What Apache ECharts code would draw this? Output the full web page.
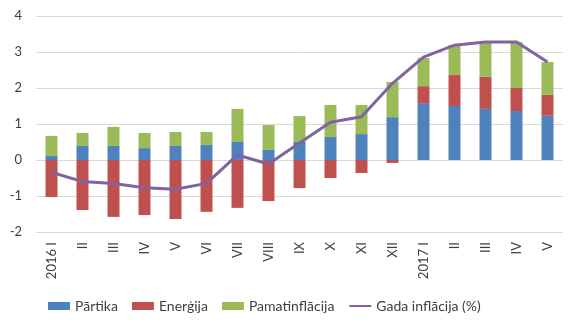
<!DOCTYPE html>
<html>
<head>
<meta charset="utf-8">
<script src="https://cdn.jsdelivr.net/npm/echarts@6/dist/echarts.min.js"></script>
<style>
  html, body { margin: 0; padding: 0; background: #fff; }
  #chart { width: 577px; height: 325px; }
</style>
</head>
<body>
<div id="chart"></div>
<script>
// mēneši
var categories = ['2016 I', 'II', 'III', 'IV', 'V', 'VI', 'VII', 'VIII', 'IX', 'X', 'XI', 'XII',
  '2017 I', 'II', 'III', 'IV', 'V'];

// devumi gada inflācijā (procentpunkti)
var partika = [0.11, 0.39, 0.39, 0.33, 0.39, 0.42, 0.50, 0.28, 0.50, 0.64, 0.72, 1.19,
  1.58, 1.50, 1.42, 1.36, 1.23];
var energija = [-1.03, -1.39, -1.58, -1.53, -1.64, -1.44, -1.33, -1.14, -0.78, -0.50, -0.36, -0.08,
  0.47, 0.86, 0.89, 0.64, 0.58];
var pamatinflacija = [0.56, 0.36, 0.53, 0.42, 0.39, 0.36, 0.92, 0.69, 0.72, 0.89, 0.81, 0.98,
  0.78, 0.83, 0.97, 1.28, 0.91];
var gadaInflacija = [-0.34, -0.60, -0.65, -0.77, -0.81, -0.65, 0.14, -0.11, 0.47, 1.05, 1.20, 2.13,
  2.86, 3.19, 3.28, 3.28, 2.72];

var font = 'Lato, "Open Sans", sans-serif';
var chart = echarts.init(document.getElementById('chart'));

function barSeries(name, values, color) {
  return {
    name: name,
    type: 'bar',
    stack: 'total',
    barWidth: 12,
    itemStyle: { color: color },
    data: values
  };
}

chart.setOption({
  animation: false,
  grid: { left: 36, right: 14, top: 16, bottom: 93 },
  legend: {
    bottom: 7,
    left: 43,
    itemWidth: 22,
    itemHeight: 8,
    itemGap: 14,
    textStyle: { fontFamily: font, fontSize: 14, color: '#404040' },
    data: [
      { name: 'Pārtika', icon: 'rect' },
      { name: 'Enerģija', icon: 'rect' },
      { name: 'Pamatinflācija', icon: 'rect' },
      { name: 'Gada inflācija (%)', itemStyle: { opacity: 0 } }
    ]
  },
  xAxis: {
    type: 'category',
    data: categories,
    axisLine: { show: false, onZero: false },
    axisTick: { show: false },
    axisLabel: {
      rotate: 90,
      interval: 0,
      margin: 10,
      fontFamily: font,
      fontSize: 13,
      color: '#404040'
    }
  },
  yAxis: {
    type: 'value',
    min: -2,
    max: 4,
    interval: 1,
    axisLine: { show: false },
    axisTick: { show: false },
    splitLine: { lineStyle: { color: '#d9d9d9', width: 1 } },
    axisLabel: { margin: 14, fontFamily: font, fontSize: 13, color: '#404040' }
  },
  series: [
    barSeries('Pārtika', partika, '#4f81bd'),
    barSeries('Enerģija', energija, '#c0504d'),
    barSeries('Pamatinflācija', pamatinflacija, '#9bbb59'),
    {
      name: 'Gada inflācija (%)',
      type: 'line',
      symbol: 'none',
      lineStyle: { color: '#8064a2', width: 3 },
      itemStyle: { color: '#8064a2' },
      z: 5,
      data: gadaInflacija
    }
  ]
});
</script>
</body>
</html>
